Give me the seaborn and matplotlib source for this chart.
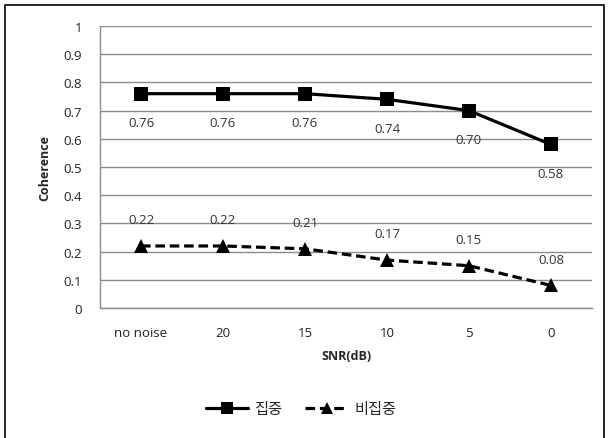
import matplotlib
matplotlib.use("Agg")
import matplotlib.pyplot as plt
import seaborn as sns
import pandas as pd
from matplotlib.lines import Line2D
from matplotlib.patches import Rectangle

categories = ["no noise", "20", "15", "10", "5", "0"]
focus = [0.76, 0.76, 0.76, 0.74, 0.70, 0.58]        # 집중
nonfocus = [0.22, 0.22, 0.21, 0.17, 0.15, 0.08]     # 비집중
series_names = ["집중", "비집중"]
ytick_vals = [0, 0.1, 0.2, 0.3, 0.4, 0.5, 0.6, 0.7, 0.8, 0.9, 1]
ytick_labels = ["0", "0.1", "0.2", "0.3", "0.4", "0.5", "0.6", "0.7", "0.8", "0.9", "1"]

sns.set_theme(style="white")
plt.rcParams["font.family"] = ["Open Sans", "Noto Sans CJK KR", "DejaVu Sans"]

df = pd.DataFrame({
    "SNR": categories * 2,
    "Coherence": focus + nonfocus,
    "series": [series_names[0]] * len(categories) + [series_names[1]] * len(categories),
})

fig = plt.figure(figsize=(6.08, 4.39), dpi=100)
ax = fig.add_axes([0.1645, 0.2961, 0.809, 0.6424])

sns.lineplot(data=df, x="SNR", y="Coherence", hue="series", style="series",
             palette=["black", "black"], markers={"집중": "s", "비집중": "^"},
             dashes={"집중": "", "비집중": (3, 1.5)}, sort=False, ax=ax,
             linewidth=2.3, markersize=10, markeredgewidth=0, legend=False)

label_color = "#2f3442"
for i, v in enumerate(focus):
    ax.annotate(f"{v:.2f}", (i, v), xytext=(0, -21), textcoords="offset points",
                ha="center", va="center", fontsize=9.5, color=label_color)
for i, v in enumerate(nonfocus):
    ax.annotate(f"{v:.2f}", (i, v), xytext=(0, 19), textcoords="offset points",
                ha="center", va="center", fontsize=9.5, color=label_color)

ax.set_xlim(-0.5, len(categories) - 0.5)
ax.set_ylim(0, 1)
ax.set_yticks(ytick_vals)
ax.set_yticklabels(ytick_labels)
ax.yaxis.grid(True, color="#8c8c8c", linewidth=1)
ax.xaxis.grid(False)
ax.set_axisbelow(True)
for s in ["top", "right"]:
    ax.spines[s].set_visible(False)
for s in ["left", "bottom"]:
    ax.spines[s].set_color("#8c8c8c")
    ax.spines[s].set_linewidth(1)
ax.tick_params(axis="both", length=0, labelsize=9.5, colors="#222222")
ax.tick_params(axis="y", pad=13)
ax.tick_params(axis="x", pad=13)
ax.set_xlabel("SNR(dB)", fontsize=9, fontweight="bold", labelpad=7)
ax.set_ylabel("Coherence", fontsize=9, fontweight="bold", labelpad=9)

handles = [
    Line2D([], [], color="black", lw=2.3, marker="s", markersize=9, markeredgewidth=0),
    Line2D([], [], color="black", lw=2.3, ls=(0, (3, 1.5)), marker="^", markersize=9, markeredgewidth=0),
]
fig.legend(handles, series_names, loc="center", bbox_to_anchor=(0.495, 1 - 411 / 439),
           ncol=2, frameon=False, fontsize=11, handlelength=2.8, columnspacing=1.5,
           handletextpad=0.4)

fig.patches.append(Rectangle((5 / 608, -0.05), 599 / 608, 1 - 6 / 439 + 0.05,
                             transform=fig.transFigure, fill=False,
                             edgecolor="black", linewidth=1.2))

fig.savefig("out.png", dpi=100)
